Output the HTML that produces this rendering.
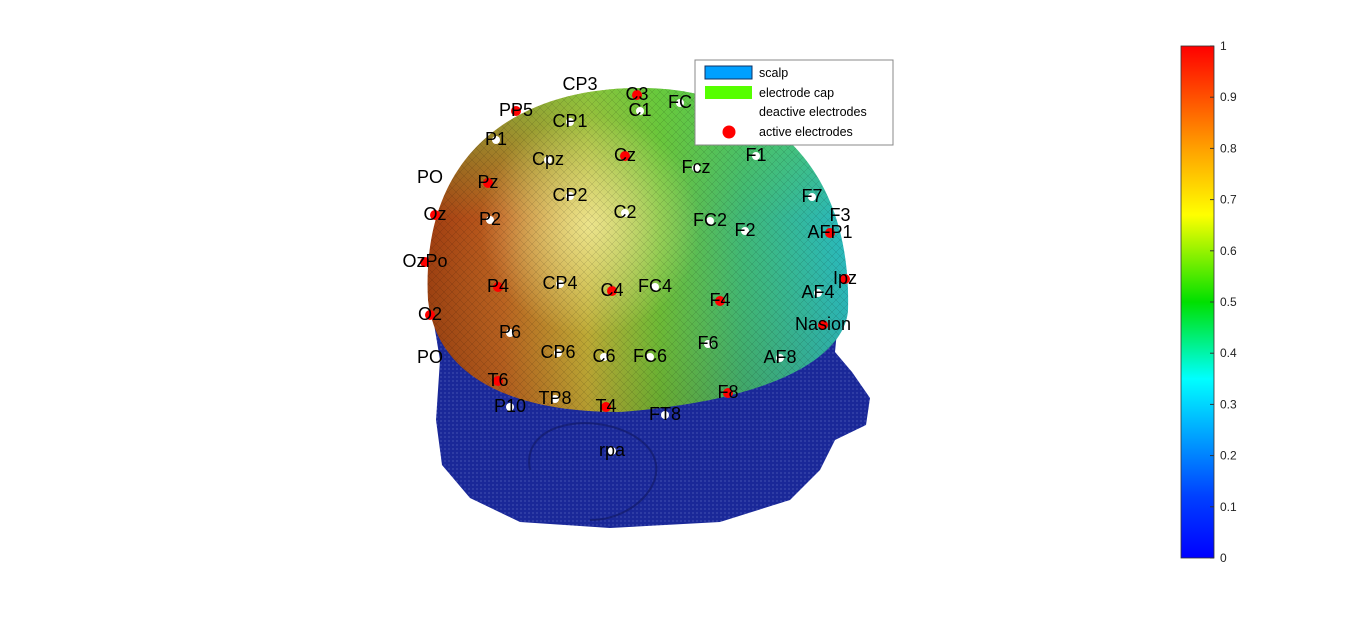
<!DOCTYPE html>
<html><head><meta charset="utf-8"><style>
html,body{margin:0;padding:0;background:#fff;}
svg{display:block;font-family:"Liberation Sans",sans-serif;}
</style></head><body>
<svg id="fig" width="1366" height="628" viewBox="0 0 1366 628">
<defs>
<linearGradient id="domeH" x1="0" y1="0" x2="1" y2="0">
<stop offset="0" stop-color="#a03c10"/><stop offset="0.18" stop-color="#c06020"/>
<stop offset="0.38" stop-color="#c8b038"/><stop offset="0.55" stop-color="#70c038"/>
<stop offset="0.75" stop-color="#40b878"/><stop offset="1" stop-color="#28b8c0"/>
</linearGradient>
<radialGradient id="hl" cx="590" cy="225" r="110" gradientUnits="userSpaceOnUse">
<stop offset="0" stop-color="#f4f0a0" stop-opacity="0.8"/><stop offset="1" stop-color="#f4f0a0" stop-opacity="0"/>
</radialGradient>
<linearGradient id="domeV" x1="0" y1="0" x2="0" y2="1">
<stop offset="0" stop-color="#60d040" stop-opacity="0.6"/><stop offset="0.4" stop-color="#60d040" stop-opacity="0"/>
<stop offset="1" stop-color="#402000" stop-opacity="0.15"/>
</linearGradient>
<linearGradient id="jet" x1="0" y1="1" x2="0" y2="0">
<stop offset="0" stop-color="#0000ff"/><stop offset="0.12" stop-color="#0040ff"/>
<stop offset="0.35" stop-color="#00ffff"/><stop offset="0.5" stop-color="#00e000"/>
<stop offset="0.67" stop-color="#ffff00"/><stop offset="0.8" stop-color="#ffa000"/>
<stop offset="1" stop-color="#ff0000"/>
</linearGradient>
<pattern id="mesh" width="8" height="8" patternUnits="userSpaceOnUse">
<path d="M0 8L8 0M0 0L8 8" stroke="#000" stroke-width="0.3" opacity="0.35"/>
</pattern>
<pattern id="smesh" width="4" height="4" patternUnits="userSpaceOnUse">
<rect width="4" height="4" fill="#1a2898"/><circle cx="1" cy="1" r="0.5" fill="#8890d8"/>
</pattern>
</defs>
<path fill="url(#smesh)" d="M430,300 L440,360 L436,420 L442,465 L470,498 L520,522 L610,528 L720,522 L790,500 L820,470 L835,440 L866,425 L870,398 L852,372 L835,352 L840,300 Z"/>
<path d="M530,470 C520,420 600,410 640,440 C680,470 640,520 590,520" fill="none" stroke="#101860" stroke-width="2" opacity="0.6"/>
<g>
<path d="M428,300 C420,150 520,88 640,88 C760,88 852,160 848,310 C846,345 800,398 620,412 C500,412 436,370 428,300 Z" fill="url(#domeH)"/>
<path d="M428,300 C420,150 520,88 640,88 C760,88 852,160 848,310 C846,345 800,398 620,412 C500,412 436,370 428,300 Z" fill="url(#domeV)"/>
<path d="M428,300 C420,150 520,88 640,88 C760,88 852,160 848,310 C846,345 800,398 620,412 C500,412 436,370 428,300 Z" fill="url(#hl)"/>
<path d="M428,300 C420,150 520,88 640,88 C760,88 852,160 848,310 C846,345 800,398 620,412 C500,412 436,370 428,300 Z" fill="url(#mesh)"/>
</g>
<g id="elec"></g>
<g>
<rect x="695" y="60" width="198" height="85" fill="#fff" stroke="#888" stroke-width="1"/>
<rect x="705" y="66" width="47" height="13" fill="#00a0ff" stroke="#103060"/>
<text x="759" y="77" font-size="12.5">scalp</text>
<rect x="705" y="86" width="47" height="13" fill="#55ff00"/>
<text x="759" y="97" font-size="12.5">electrode cap</text>
<text x="759" y="116" font-size="12.5">deactive electrodes</text>
<circle cx="729" cy="132" r="6.5" fill="#f00"/>
<text x="759" y="136" font-size="12.5">active electrodes</text>
</g>
<g>
<rect x="1181" y="46" width="33" height="512" fill="url(#jet)" stroke="#333" stroke-width="0.8"/>
<g id="cbticks"></g>
</g>
</svg>
<script>
const labels=["CP3","C3","PP5","C1","FC","CP1","P1","Cpz","Cz","Fcz","F1","PO","Pz","CP2","C2","F7","Oz","P2","FC2","F2","F3","AFP1","OzPo","P4","CP4","C4","FC4","F4","Ipz","AF4","O2","P6","Nasion","PO","CP6","C6","FC6","F6","AF8","T6","F8","P10","TP8","T4","FT8","rpa"];
const ex=[580,637,516,640,680,570,496,548,625,696,756,430,488,570,625,812,435,490,710,745,840,830,425,498,560,612,655,720,845,818,430,510,823,430,558,604,650,708,780,498,728,510,555,606,665,612];
const ey=[82,92,108,108,100,119,137,157,153,165,153,175,180,193,210,194,212,217,218,228,213,230,259,284,281,288,284,298,276,290,312,330,322,355,350,354,354,341,355,378,390,404,396,404,412,448];
const active=[0,1,1,0,0,0,0,0,1,0,0,0,1,0,0,0,1,0,0,0,0,1,1,1,0,1,0,1,1,0,1,0,1,0,0,0,0,0,0,1,1,0,0,1,0,0];
const g=document.getElementById('elec');
const NS='http://www.w3.org/2000/svg';
for(let i=0;i<labels.length;i++){
 const c=document.createElementNS(NS,'circle');
 c.setAttribute('cx',ex[i]);c.setAttribute('cy',ey[i]+3);c.setAttribute('r',active[i]?5:4);
 c.setAttribute('fill',active[i]?'#f00':'#fff');
 
 
 g.appendChild(c);
 const t=document.createElementNS(NS,'text');
 t.setAttribute('x',ex[i]);t.setAttribute('y',ey[i]+8);t.setAttribute('font-size','18');
 t.setAttribute('text-anchor','middle');t.textContent=labels[i];
 
 
 g.appendChild(t);
}
const ticks=[0,0.1,0.2,0.3,0.4,0.5,0.6,0.7,0.8,0.9,1];
const cb=document.getElementById('cbticks');
for(const v of ticks){
 const y=558-v*512;
 const l=document.createElementNS(NS,'line');
 l.setAttribute('x1',1210);l.setAttribute('x2',1214);l.setAttribute('y1',y);l.setAttribute('y2',y);
 l.setAttribute('stroke','#333');
 
 
 cb.appendChild(l);
 const t=document.createElementNS(NS,'text');
 t.setAttribute('x',1220);t.setAttribute('y',y+4);t.setAttribute('font-size','12');t.setAttribute('fill','#222');
 t.textContent=String(v);
 
 
 cb.appendChild(t);
}
</script>
</body></html>
